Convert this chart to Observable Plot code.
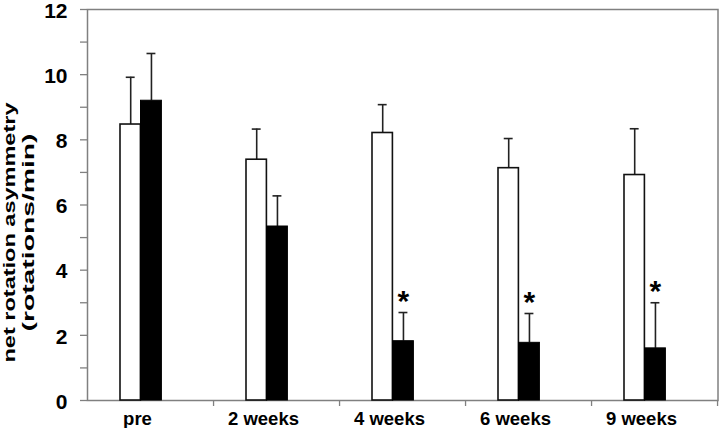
<!DOCTYPE html>
<html>
<head>
<meta charset="utf-8">
<script src="https://cdn.jsdelivr.net/npm/d3@7"></script>
<script src="https://cdn.jsdelivr.net/npm/@observablehq/plot@0.6"></script>
<style>
  html, body { margin: 0; padding: 0; background: #fff; }
  #chart { width: 720px; height: 428px; }
</style>
</head>
<body>
<div id="chart"></div>
<script>
// ---- data ----
const categories = ["pre", "2 weeks", "4 weeks", "6 weeks", "9 weeks"];
const whiteMean  = [8.47, 7.39, 8.21, 7.13, 6.92];
const whiteErr   = [1.45, 0.94, 0.87, 0.91, 1.42];
const blackMean  = [9.20, 5.34, 1.82, 1.77, 1.60];
const blackErr   = [1.45, 0.94, 0.88, 0.90, 1.40];
const significant = [false, false, true, true, true];
const yTicks = [0,1,2,3,4,5,6,7,8,9,10,11,12];
const yLabels = [0,2,4,6,8,10,12];
const yTitle = ["net rotation asymmetry", "(rotations/min)"];

const rows = categories.map((c, i) => ({
  cat: c,
  w: whiteMean[i], wTop: whiteMean[i] + whiteErr[i],
  b: blackMean[i], bTop: blackMean[i] + blackErr[i],
  sig: significant[i]
}));

// ---- layout ----
const W = 720, H = 428, ML = 87, MR = 2.5, MT = 9, MB = 28;
const bw = (W - ML - MR) / categories.length;   // band width
const wL = 33, wR = 53.5, bR = 74.5;             // bar edges within band
const wC = (wL + wR) / 2, bC = (wR + bR) / 2;     // bar centres
const cap = 4.5;
const gray = "#808080";
const font = "'Liberation Sans', Arial, sans-serif";

const chart = Plot.plot({
  width: W, height: H,
  marginLeft: ML, marginRight: MR, marginTop: MT, marginBottom: MB,
  style: { fontFamily: font, background: "white", color: "black" },
  x: { type: "band", domain: categories, padding: 0, axis: null },
  y: { domain: [0, 12], axis: null },
  marks: [
    Plot.frame({ stroke: gray, strokeWidth: 1.5 }),
    // y axis ticks (every unit)
    Plot.axisY({
      ticks: yTicks, tickFormat: () => "", tickSize: 7, stroke: gray, strokeWidth: 1.3, label: null
    }),
    // y axis labels (even values)
    Plot.axisY({
      ticks: yLabels, tickSize: 0, tickPadding: 20, dy: 1.5,
      fontSize: 21, fontWeight: "bold", fill: "black", label: null
    }),
    // x tick marks at category boundaries
    Plot.axisX({
      tickSize: 6, tickFormat: () => "", dx: bw / 2, stroke: gray, strokeWidth: 1.3, label: null
    }),
    // x labels
    Plot.axisX({
      tickSize: 0, tickPadding: 11, dx: -13, fontSize: 18.5, fontWeight: "bold", fill: "black", label: null
    }),
    // error bars (upper only)
    Plot.ruleX(rows, { x: "cat", y1: "w", y2: "wTop", dx: wC - bw / 2, stroke: "#222", strokeWidth: 1.6 }),
    Plot.ruleX(rows, { x: "cat", y1: "b", y2: "bTop", dx: bC - bw / 2, stroke: "#222", strokeWidth: 1.6 }),
    Plot.tickY(rows, { x: "cat", y: "wTop", insetLeft: wC - cap, insetRight: bw - wC - cap, stroke: "#222", strokeWidth: 1.6 }),
    Plot.tickY(rows, { x: "cat", y: "bTop", insetLeft: bC - cap, insetRight: bw - bC - cap, stroke: "#222", strokeWidth: 1.6 }),
    // bars
    Plot.barY(rows, { x: "cat", y: "w", fill: "white", stroke: "#111", strokeWidth: 1.6,
      insetLeft: wL, insetRight: bw - wR }),
    Plot.barY(rows, { x: "cat", y: "b", fill: "black", stroke: "black", strokeWidth: 1,
      insetLeft: wR, insetRight: bw - bR }),
    // significance asterisks
    Plot.text(rows.filter(d => d.sig), { x: "cat", y: "bTop", text: () => "*", dx: bC - bw / 2, dy: -11,
      fontSize: 30, fontWeight: "bold", fill: "black" }),
    // y axis title (two lines)
    Plot.text([yTitle[0]], { text: d => d, frameAnchor: "left", textAnchor: "middle", rotate: -90, dx: -77.5, dy: 27.5,
      fontSize: 16.5, fontWeight: "bold", fill: "black" }),
    Plot.text([yTitle[1]], { text: d => d, frameAnchor: "left", textAnchor: "middle", rotate: -90, dx: -58.5, dy: 27.5,
      fontSize: 16.5, fontWeight: "bold", fill: "black" })
  ]
});
// stretch the axis-title lines to the lengths they have in the reference
const titleLengths = { [yTitle[0]]: 260, [yTitle[1]]: 198 };
d3.select(chart).selectAll("text").each(function () {
  const len = titleLengths[this.textContent];
  if (len) d3.select(this).attr("textLength", len).attr("lengthAdjust", "spacingAndGlyphs");
});
document.getElementById("chart").appendChild(chart);
</script>
</body>
</html>
